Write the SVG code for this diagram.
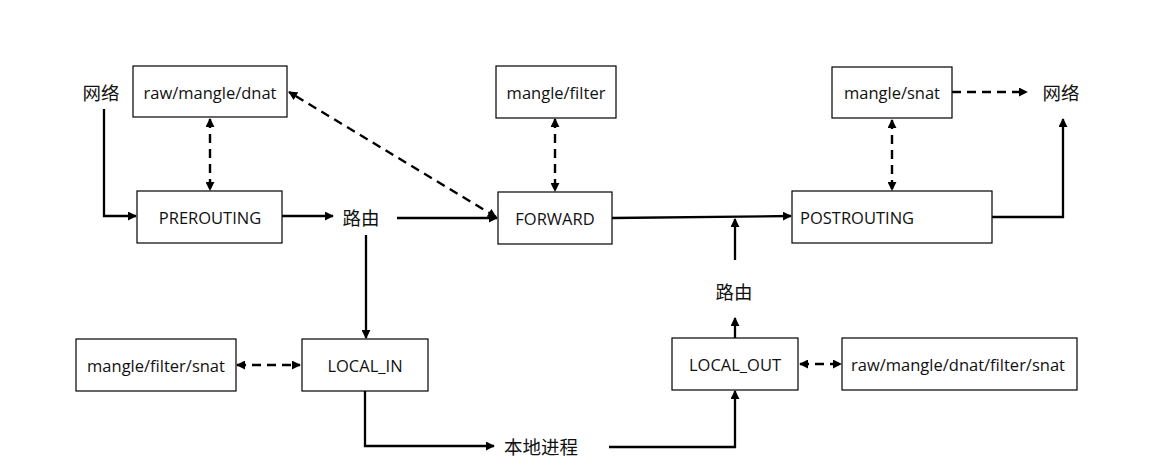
<svg xmlns="http://www.w3.org/2000/svg" width="1167" height="473" viewBox="0 0 1167 473">
<style>
.box{fill:#fff;stroke:#000;stroke-width:1.2}
.t{font-family:"Open Sans","Noto Sans CJK SC",sans-serif;font-size:16.5px;fill:#111;text-anchor:middle;dominant-baseline:central}
.cn{font-family:"Noto Sans CJK SC",sans-serif;font-size:18.5px;fill:#111;text-anchor:middle;dominant-baseline:central}
.s{fill:none;stroke:#000;stroke-width:2.3}
.d{fill:none;stroke:#000;stroke-width:2.4;stroke-dasharray:9 6}
</style>
<defs>
<marker id="a" viewBox="0 0 10 10" refX="9" refY="5" markerWidth="9" markerHeight="9" markerUnits="userSpaceOnUse" orient="auto-start-reverse">
<path d="M0,0 L10,5 L0,10 z" fill="#000"/>
</marker>
</defs>
<rect width="1167" height="473" fill="#fff"/>
<g id="connectors">
<polyline class="s" points="104,109 104,216 136,216" marker-end="url(#a)"/>
<line class="d" x1="210" y1="119" x2="210" y2="190" marker-start="url(#a)" marker-end="url(#a)"/>
<line class="s" x1="282" y1="216" x2="333" y2="216" marker-end="url(#a)"/>
<line class="s" x1="397" y1="218" x2="497" y2="218" marker-end="url(#a)"/>
<line class="d" x1="496" y1="217" x2="289" y2="92" marker-start="url(#a)" marker-end="url(#a)"/>
<line class="d" x1="555" y1="119" x2="555" y2="191" marker-start="url(#a)" marker-end="url(#a)"/>
<line class="s" x1="612" y1="218" x2="791" y2="216" marker-end="url(#a)"/>
<line class="d" x1="892" y1="120" x2="892" y2="190" marker-start="url(#a)" marker-end="url(#a)"/>
<line class="d" x1="952" y1="92" x2="1027" y2="92" marker-end="url(#a)"/>
<polyline class="s" points="992,217 1063,217 1063,119" marker-end="url(#a)"/>
<line class="s" x1="366" y1="235" x2="366" y2="338" marker-end="url(#a)"/>
<line class="d" x1="237" y1="365" x2="300" y2="365" marker-start="url(#a)" marker-end="url(#a)"/>
<polyline class="s" points="365,391 365,446 494,446" marker-end="url(#a)"/>
<polyline class="s" points="609,447 735,447 735,391" marker-end="url(#a)"/>
<line class="s" x1="735" y1="338" x2="735" y2="318" marker-end="url(#a)"/>
<line class="s" x1="735" y1="260" x2="735" y2="219" marker-end="url(#a)"/>
<line class="d" x1="800" y1="364" x2="841" y2="364" stroke-dasharray="12 8" marker-start="url(#a)" marker-end="url(#a)"/>
</g>
<g id="net-in"><text class="cn" x="101" y="92">网络</text></g>
<g id="raw-mangle-dnat"><rect class="box" x="133" y="66" width="154" height="51"/><text class="t" x="210" y="92">raw/mangle/dnat</text></g>
<g id="prerouting"><rect class="box" x="137" y="191" width="145" height="52"/><text class="t" x="210" y="217">PREROUTING</text></g>
<g id="route1"><text class="cn" x="361" y="217">路由</text></g>
<g id="mangle-filter"><rect class="box" x="496" y="66" width="120" height="52"/><text class="t" x="556" y="92">mangle/filter</text></g>
<g id="forward"><rect class="box" x="498" y="192" width="114" height="52"/><text class="t" x="555" y="218">FORWARD</text></g>
<g id="mangle-snat"><rect class="box" x="832" y="67" width="120" height="51"/><text class="t" x="892" y="92">mangle/snat</text></g>
<g id="net-out"><text class="cn" x="1061" y="92">网络</text></g>
<g id="postrouting"><rect class="box" x="792" y="191" width="200" height="52"/><text class="t" x="800" y="217" style="text-anchor:start">POSTROUTING</text></g>
<g id="mangle-filter-snat"><rect class="box" x="76" y="339" width="160" height="52"/><text class="t" x="156" y="365">mangle/filter/snat</text></g>
<g id="local-in"><rect class="box" x="302" y="339" width="126" height="52"/><text class="t" x="365" y="365">LOCAL_IN</text></g>
<g id="local-process"><text class="cn" x="541" y="446">本地进程</text></g>
<g id="route2"><text class="cn" x="734" y="291">路由</text></g>
<g id="local-out"><rect class="box" x="672" y="338" width="126" height="52"/><text class="t" x="735" y="364">LOCAL_OUT</text></g>
<g id="raw-all"><rect class="box" x="842" y="338" width="235" height="52"/><text class="t" x="958" y="364">raw/mangle/dnat/filter/snat</text></g>
</svg>
